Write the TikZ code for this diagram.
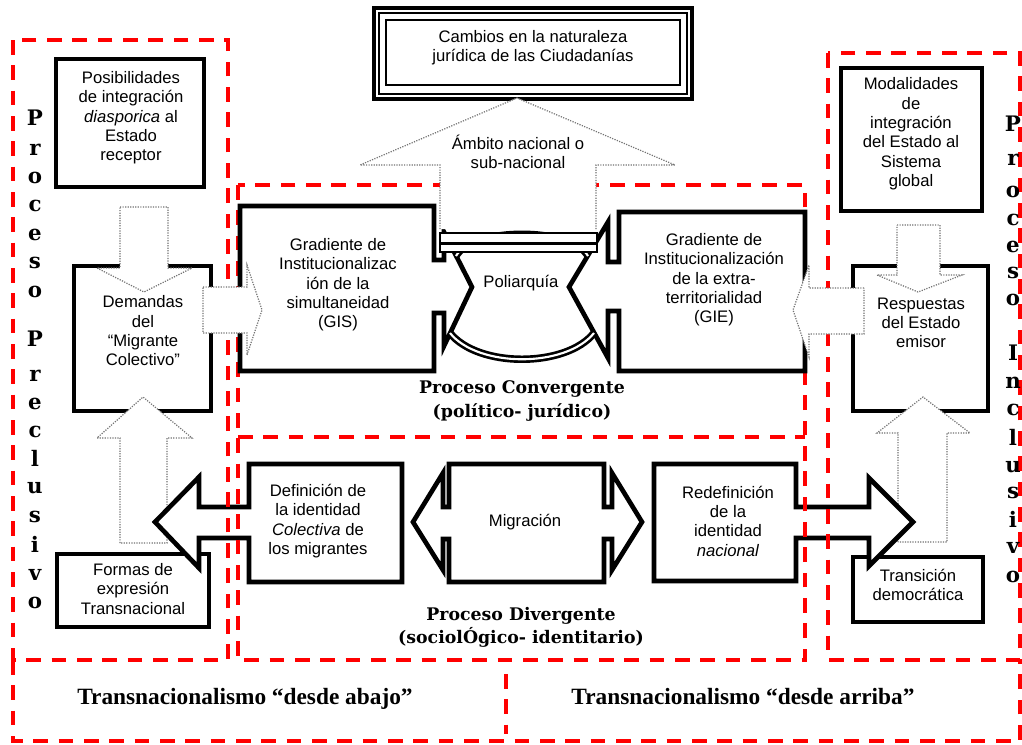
\documentclass[tikz,border=0pt]{standalone}
\usepackage{fontspec}
\setmainfont{Liberation Sans}
\newfontfamily\bookfont{DejaVu Serif}
\newfontfamily\timesfont{Liberation Serif}
\usetikzlibrary{positioning}
\tikzset{
  redframe/.style={draw=red, line width=2.4pt, dash pattern=on 11pt off 8pt},
  blackline/.style={draw=black, line width=3.5pt, fill=white, line join=miter},
  dotarrow/.style={draw=black!55, densely dotted, line width=0.9pt, fill=white},
  ringline/.style={draw=black, line width=2pt, double=white, double distance=1.6pt},
  barline/.style={draw=black, line width=0.8pt, fill=white},
  boxtxt/.style={font=\fontsize{12.5}{14.5}\selectfont, align=center, inner sep=0pt},
  proctxt/.style={font=\bookfont\bfseries\fontsize{13}{17.5}\selectfont, align=center, inner sep=0pt},
  sidetxt/.style={font=\bookfont\bfseries\fontsize{16}{16}\selectfont, inner sep=0pt, anchor=base},
  lowtxt/.style={font=\timesfont\bfseries\fontsize{17.5}{20}\selectfont, inner sep=0pt, anchor=base}
}
\begin{document}
\begin{tikzpicture}[x=0.75pt, y=-0.75pt]
  \useasboundingbox (0,0) rectangle (1022,744);
  \fill[white] (0,0) rectangle (1022,744);

  % plain boxes
  \draw[line width=2.3pt, fill=white] (374,8) rectangle (692,99);
  \draw[line width=1.1pt] (379,13) rectangle (687,94);
  \draw[line width=1.5pt] (386,20) rectangle (680,85);
  \draw[blackline] (56,59) rectangle (204,187);
  \draw[blackline] (841,68) rectangle (982,211);
  \draw[blackline] (74,266) rectangle (211,411);
  \draw[blackline] (853,266) rectangle (988,411);
  \draw[blackline] (57,554) rectangle (209,627);
  \draw[blackline] (853,557) rectangle (983,622);

  % vertical block arrows
  \draw[dotarrow] (120,207) -- (168,207) -- (168,268) -- (192,268) -- (144,292) -- (97,268) -- (120,268) -- cycle;
  \draw[dotarrow] (120,543) -- (120,438) -- (97,438) -- (143,397) -- (192,438) -- (167,438) -- (167,543) -- cycle;
  \draw[dotarrow] (897,225) -- (940,225) -- (940,275) -- (962,275) -- (918,292) -- (877,275) -- (897,275) -- cycle;
  \draw[dotarrow] (898,542) -- (898,433) -- (877,433) -- (923,397) -- (970,433) -- (947,433) -- (947,542) -- cycle;

  % lower shapes
  \draw[blackline] (402,464) -- (249,464) -- (249,507) -- (199,507) -- (199,477) -- (155,522)
    -- (199,568) -- (199,538) -- (249,538) -- (249,582) -- (402,582) -- cycle;
  \draw[blackline] (449,464) -- (604,464) -- (604,507) -- (612,507) -- (612,473) -- (642,522)
    -- (612,570) -- (612,539) -- (604,539) -- (604,582) -- (449,582) -- (449,539) -- (443,539)
    -- (443,570) -- (413,522) -- (443,473) -- (443,507) -- (449,507) -- cycle;
  \draw[blackline] (654,464) -- (796,464) -- (796,507) -- (869,507) -- (869,478) -- (913,522)
    -- (869,566) -- (869,538) -- (796,538) -- (796,581) -- (654,581) -- cycle;

  % red frames
  \draw[redframe] (13,40) rectangle (228,660);
  \draw[redframe] (828,53) rectangle (1020,660);
  \draw[redframe] (238,185) rectangle (805,660);
  \draw[redframe] (238,437) -- (805,437);
  \draw[redframe] (13,660) -- (13,741) -- (1020,741) -- (1020,660);
  \draw[redframe] (506,674) -- (506,734);

  % upper shapes
  \draw[blackline] (240,206) -- (434,206) -- (434,260) -- (444,260) -- (444,232) -- (472,287)
    -- (444,346) -- (444,313) -- (434,313) -- (434,371) -- (240,371) -- cycle;
  \draw[blackline] (805,212) -- (619,212) -- (619,262) -- (608,262) -- (608,222) -- (569,287)
    -- (608,358) -- (608,311) -- (619,311) -- (619,371) -- (805,371) -- cycle;

  % side block arrows
  \draw[dotarrow] (203,287) -- (247,287) -- (247,265) -- (262,310) -- (247,355) -- (247,333) -- (203,333) -- cycle;
  \draw[dotarrow] (864,288) -- (809,288) -- (809,265) -- (793,310) -- (809,357) -- (809,334) -- (864,334) -- cycle;
  \draw[dotarrow] (440,229) -- (440,165) -- (360,165) -- (517,98) -- (675,165) -- (596,165) -- (596,229);

  % ring round Poliarquia
  \draw[ringline] (450,333) .. controls (478,368) and (566,368) .. (594,333);
  \draw[ringline] (456,256) .. controls (472,227) and (572,227) .. (588,256);
  \draw[barline] (440,233) rectangle (597,243);
  \draw[barline] (440,244) rectangle (597,252);

  % texts
  \node[boxtxt] (cambios) at (533,48) {Cambios en la naturaleza\\jurídica de las Ciudadanías};
  \node[boxtxt] (posib) at (131,118) {Posibilidades\\de integración\\\textit{diasporica} al\\Estado\\receptor};
  \node[boxtxt] (modal) at (911,134) {Modalidades\\de\\integración\\del Estado al\\Sistema\\global};
  \node[boxtxt] (ambito) at (518,152) {Ámbito nacional o\\sub-nacional};
  \node[boxtxt] (demandas) at (143,331) {Demandas\\del\\“Migrante\\Colectivo”};
  \node[boxtxt] (gis) at (338,285) {Gradiente de\\Institucionalizac\\ión de la\\simultaneidad\\(GIS)};
  \node[boxtxt] (gie) at (714,280) {Gradiente de\\Institucionalización\\de la extra-\\territorialidad\\(GIE)};
  \node[boxtxt] (poliarquia) at (521,283) {Poliarquía};
  \node[boxtxt] (respuestas) at (921,323) {Respuestas\\del Estado\\emisor};
  \node[proctxt] (convergente) at (522,401) {Proceso Convergente\\(político- jurídico)};
  \node[boxtxt] (definicion) at (318,521) {Definición de\\la identidad\\\textit{Colectiva} de\\los migrantes};
  \node[boxtxt] (migracion) at (525,522) {Migración};
  \node[boxtxt] (redefinicion) at (728,521) {Redefinición\\de la\\identidad\\\textit{nacional}};
  \node[proctxt] (divergente) at (521,627) {Proceso Divergente\\(sociolÓgico- identitario)};
  \node[boxtxt] (formas) at (133,589) {Formas de\\expresión\\Transnacional};
  \node[boxtxt] (transicion) at (918,585) {Transición\\democrática};
  \node[lowtxt] (abajo) at (245,704) {Transnacionalismo “desde abajo”};
  \node[lowtxt] (arriba) at (743,704) {Transnacionalismo “desde arriba”};

  % stacked side titles
  \foreach \ch/\yy [count=\i] in {P/125, r/155, o/183, c/211, e/240, s/268, o/297, P/346, r/381,
      e/409, c/437, l/466, u/493, s/522, i/552, v/580, o/608}
    \node[sidetxt] (pre\i) at (35,\yy) {\ch};
  \foreach \ch/\yy [count=\i] in {P/131, r/165, o/197, c/225, e/252, s/278, o/305, I/360, n/388,
      c/415, l/445, u/472, s/498, i/527, v/553, o/582}
    \node[sidetxt] (inc\i) at (1013,\yy) {\ch};
\end{tikzpicture}
\end{document}
